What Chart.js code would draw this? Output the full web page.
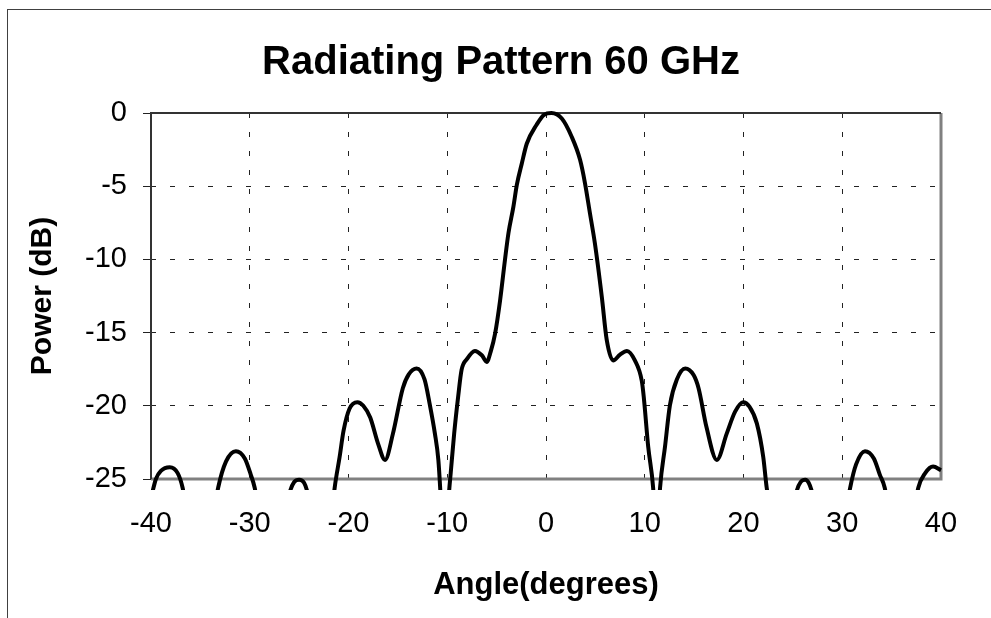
<!DOCTYPE html>
<html>
<head>
<meta charset="utf-8">
<script src="https://cdn.jsdelivr.net/npm/chart.js@4.4.1/dist/chart.umd.min.js"></script>
<style>
  html, body { margin: 0; padding: 0; background: #fff; overflow: hidden; }
  #wrap { position: relative; width: 991px; height: 618px; overflow: hidden; }
  #frame { position: absolute; left: 7px; top: 9px; width: 1200px; height: 800px; border: 1px solid #404040; }
  #chart { position: absolute; left: 0; top: 0; }
</style>
</head>
<body>
<div id="wrap">
  <div id="frame"></div>
  <canvas id="chart" width="991" height="618"></canvas>
</div>
<script>
// angle in degrees and power in dB (values under -25 are off the axis)
const angles = [
  -40, -39.5, -39, -38.1, -37.3, -36.8, -36.2, -35, -33.8, -33.2,
  -32.4, -31.4, -30.5, -29.9, -29.5, -28.9, -27.5, -26.3, -25.9, -25.5,
  -25, -24.5, -24.2, -23.6, -22.5, -21.7, -21.4, -20.9, -20.5, -19.9,
  -19.1, -18.5, -17.8, -17, -16.3, -15.5, -14.5, -13.9, -13.1, -12.3,
  -11.8, -11.25, -10.9, -10.7, -10.5, -10.25, -10, -9.8, -9.65, -9.3,
  -8.9, -8.55, -8, -7.2, -6.5, -6, -5.6, -5.15, -4.65, -4.15,
  -3.8, -3.3, -2.95, -2.45, -1.95, -0.95, -0.2, 0.55, 1.6, 2.6,
  3.45, 3.95, 4.45, 4.95, 5.65, 6.15, 6.8, 7.5, 8.2, 9,
  9.7, 9.9, 10.35, 10.85, 11.1, 11.3, 11.55, 12.05, 12.55, 13.25,
  14.1, 14.95, 15.45, 16.25, 17.3, 18.3, 19.15, 19.95, 20.6, 21.35,
  22, 22.35, 23, 24.3, 25.1, 25.4, 25.8, 26.25, 26.6, 26.9,
  27.6, 28.8, 30.2, 30.8, 31.4, 32.3, 33.2, 33.8, 34.3, 34.9,
  36, 37.1, 37.7, 38.4, 39.2, 40
];
const power = [
  -26.3, -25, -24.45, -24.2, -24.6, -25.6, -28, -33, -28, -25.6,
  -23.8, -23.1, -23.6, -24.7, -25.6, -28, -33, -27, -25.8, -25.2,
  -25.05, -25.25, -25.8, -28, -33, -27.5, -25.6, -23.5, -21.7, -20.2,
  -19.75, -20, -20.8, -22.6, -23.7, -21.9, -18.8, -17.85, -17.45, -18.2,
  -19.8, -21.9, -23.7, -25.8, -28.5, -29, -28, -25.75, -24.6, -21.9,
  -19.4, -17.55, -16.8, -16.25, -16.55, -17, -16.3, -15.05, -12.8, -10,
  -8.2, -6.4, -4.9, -3.45, -2.1, -0.8, -0.12, 0, -0.38, -1.62,
  -3.2, -4.8, -6.85, -8.9, -12.55, -15.5, -16.9, -16.5, -16.25, -16.9,
  -18.3, -19.4, -22.8, -25.6, -28.5, -28.5, -25.6, -22.8, -19.95, -18.2,
  -17.45, -17.9, -18.8, -21.45, -23.7, -21.9, -20.4, -19.75, -20.05, -21.2,
  -23.5, -25.6, -28, -33, -27, -25.8, -25.2, -25.05, -25.25, -25.8,
  -28, -33, -28, -25.6, -24, -23.1, -23.6, -24.7, -25.6, -28,
  -33, -28, -25.6, -24.6, -24.15, -24.4
];

const xMin = -40, xMax = 40, xStep = 10;
const yMin = -25, yMax = 0, yStep = 5;
const chartTitle = 'Radiating Pattern 60 GHz';

const FONT = "'Liberation Sans', Arial, sans-serif";
const points = angles.map((a, i) => ({ x: a, y: power[i] }));

// cadre de la zone de tracé : gris à droite/en bas, foncé à gauche/en haut
const plotFrame = {
  id: 'plotFrame',
  beforeDatasetsDraw(chart) {
    const { ctx, chartArea: a } = chart;
    ctx.save();
    ctx.strokeStyle = '#808080';
    ctx.lineWidth = 3;
    ctx.beginPath();
    ctx.moveTo(a.right, a.top);
    ctx.lineTo(a.right, a.bottom);
    ctx.lineTo(a.left, a.bottom);
    ctx.stroke();
    ctx.strokeStyle = '#333';
    ctx.lineWidth = 2;
    ctx.beginPath();
    ctx.moveTo(a.left, a.bottom);
    ctx.lineTo(a.left, a.top);
    ctx.lineTo(a.right, a.top);
    ctx.stroke();
    ctx.restore();
  },
  // titre centré sur la page entière (pas seulement sur la zone du graphe)
  afterDraw(chart) {
    const { ctx } = chart;
    ctx.save();
    ctx.fillStyle = '#000';
    ctx.font = 'bold 40px ' + FONT;
    ctx.textAlign = 'center';
    ctx.textBaseline = 'alphabetic';
    ctx.fillText(chartTitle, 501, 74);
    ctx.restore();
  }
};

new Chart(document.getElementById('chart'), {
  type: 'line',
  data: {
    datasets: [{
      data: points,
      borderColor: '#000',
      borderWidth: 4,
      pointRadius: 0,
      fill: false,
      cubicInterpolationMode: 'monotone',
      clip: { left: 0, top: 6, right: 1, bottom: 11 }
    }]
  },
  options: {
    responsive: false,
    animation: false,
    layout: { padding: { left: 21, right: 50, top: 113, bottom: 10 } },
    plugins: {
      legend: { display: false },
      tooltip: { enabled: false },
      title: { display: false }
    },
    scales: {
      x: {
        type: 'linear',
        min: xMin, max: xMax,
        afterFit: s => { s.height = 129; },
        ticks: { stepSize: xStep, color: '#000', padding: 28, maxRotation: 0, font: { family: FONT, size: 29 } },
        grid: { color: '#222', lineWidth: 1, drawTicks: false },
        border: { display: false, dash: [5, 14] },
        title: {
          display: true, text: 'Angle(degrees)', color: '#000',
          font: { family: FONT, size: 31, weight: 'bold', lineHeight: 1.2 },
          padding: { top: 4, bottom: 4 }
        }
      },
      y: {
        min: yMin, max: yMax,
        afterFit: s => { s.width = 130; },
        ticks: { stepSize: yStep, color: '#000', padding: 16, font: { family: FONT, size: 29 } },
        grid: { color: '#222', lineWidth: 1, drawTicks: true, tickLength: 8, tickColor: '#222', tickBorderDash: [] },
        border: { display: false, dash: [5, 14] },
        title: {
          display: true, text: 'Power (dB)', color: '#000',
          font: { family: FONT, size: 30, weight: 'bold', lineHeight: 1.2 },
          padding: { top: 4, bottom: 4 }
        }
      }
    }
  },
  plugins: [plotFrame]
});
</script>
</body>
</html>
